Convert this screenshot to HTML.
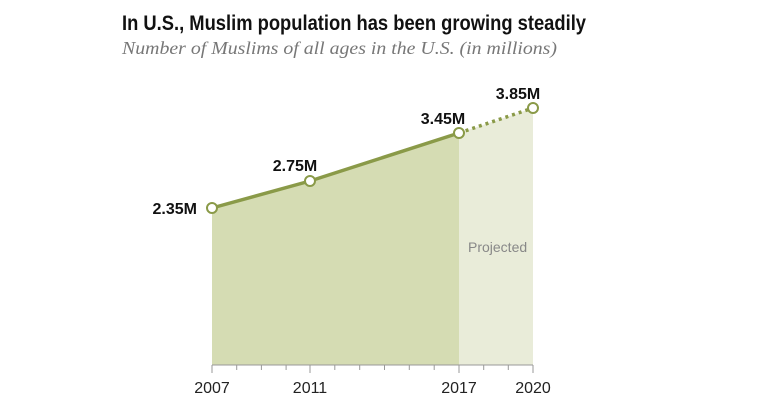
<!DOCTYPE html>
<html><head><meta charset="utf-8"><style>
html,body{margin:0;padding:0;background:#fff;}
svg{display:block;}
</style></head><body>
<svg width="770" height="400" viewBox="0 0 770 400" xmlns="http://www.w3.org/2000/svg">
<text x="122" y="30" font-family="Liberation Sans, sans-serif" font-weight="bold" font-size="21" fill="#111" textLength="464" lengthAdjust="spacingAndGlyphs">In U.S., Muslim population has been growing steadily</text>
<text x="122" y="54" font-family="Liberation Serif, serif" font-style="italic" font-size="18" fill="#777" textLength="435" lengthAdjust="spacingAndGlyphs">Number of Muslims of all ages in the U.S. (in millions)</text>
<polygon points="212,208 310,181 459,133 459,365 212,365" fill="#d5dcb3"/>
<polygon points="459,133 533,108 533,365 459,365" fill="#e9ecd9"/>
<text x="468" y="252" font-family="Liberation Sans, sans-serif" font-size="14" fill="#888">Projected</text>
<polyline points="212,208 310,181 459,133" fill="none" stroke="#8a9a48" stroke-width="3.5"/>
<line x1="459" y1="133" x2="533" y2="108" stroke="#8a9a48" stroke-width="3.5" stroke-dasharray="3,4"/>
<line x1="212" y1="365" x2="533" y2="365" stroke="#999" stroke-width="1"/>
<g stroke="#999" stroke-width="1">
<line x1="212" y1="365" x2="212" y2="373"/>
<line x1="236.7" y1="365" x2="236.7" y2="370"/>
<line x1="261.4" y1="365" x2="261.4" y2="370"/>
<line x1="286.1" y1="365" x2="286.1" y2="370"/>
<line x1="310" y1="365" x2="310" y2="373"/>
<line x1="334.8" y1="365" x2="334.8" y2="370"/>
<line x1="359.7" y1="365" x2="359.7" y2="370"/>
<line x1="384.5" y1="365" x2="384.5" y2="370"/>
<line x1="409.3" y1="365" x2="409.3" y2="370"/>
<line x1="434.2" y1="365" x2="434.2" y2="370"/>
<line x1="459" y1="365" x2="459" y2="373"/>
<line x1="483.7" y1="365" x2="483.7" y2="370"/>
<line x1="508.3" y1="365" x2="508.3" y2="370"/>
<line x1="533" y1="365" x2="533" y2="373"/>
</g>
<g font-family="Liberation Sans, sans-serif" font-size="16" fill="#222" text-anchor="middle">
<text x="212" y="393">2007</text><text x="310" y="393">2011</text><text x="459" y="393">2017</text><text x="533" y="393">2020</text>
</g>
<g fill="#fff" stroke="#8a9a48" stroke-width="2">
<circle cx="212" cy="208" r="5"/><circle cx="310" cy="181" r="5"/><circle cx="459" cy="133" r="5"/><circle cx="533" cy="108" r="5"/>
</g>
<g font-family="Liberation Sans, sans-serif" font-weight="bold" font-size="16" fill="#111">
<text x="197" y="214" text-anchor="end">2.35M</text>
<text x="295" y="171" text-anchor="middle">2.75M</text>
<text x="443" y="124" text-anchor="middle">3.45M</text>
<text x="518" y="99" text-anchor="middle">3.85M</text>
</g>
</svg>
</body></html>
